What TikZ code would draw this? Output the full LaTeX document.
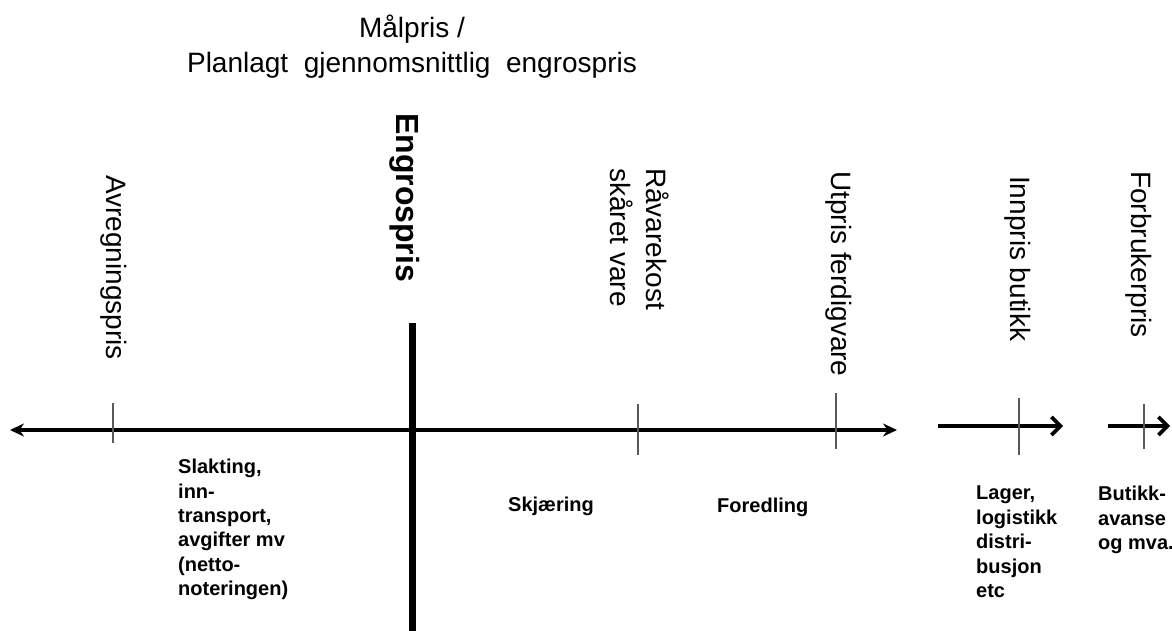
\documentclass[tikz,border=0pt]{standalone}
\usepackage{fontspec}
\setmainfont{Liberation Sans}
\usetikzlibrary{arrows.meta}
\begin{document}
\begin{tikzpicture}[x=1pt,y=-1pt,
  vlab/.style={rotate=-90,anchor=north west,inner sep=0pt,align=left,font=\fontsize{28}{36}\selectfont},
  blab/.style={anchor=north west,inner sep=0pt,align=left,font=\fontsize{20}{24.4}\selectfont\bfseries},
  axisline/.style={line width=3.2pt},
  tickline/.style={line width=1.8pt,draw=black!65},
  thickline/.style={line width=7pt},
  mainarrow/.style={axisline,{Stealth[length=14pt,width=13pt]}-{Stealth[length=14pt,width=13pt]}},
  barbarrow/.style={line width=3.6pt,-{Straight Barb[length=9pt,width=18pt,line width=3.6pt]}}
]
\useasboundingbox (0,0) rectangle (1172,631);

% title
\node[anchor=north,inner sep=0pt,align=center,font=\fontsize{28}{35}\selectfont] (title) at (412,15)
  {Målpris /\\Planlagt\ \ gjennomsnittlig\ \ engrospris};

% axis
\coordinate (axL) at (10,430);
\coordinate (axR) at (897,430);
\draw[mainarrow] (axL) -- (axR);
\coordinate (a2L) at (938,426);
\coordinate (a2R) at (1063,426);
\draw[barbarrow] (a2L) -- (a2R);
\coordinate (a3L) at (1108,426);
\coordinate (a3R) at (1170,426);
\draw[barbarrow] (a3L) -- (a3R);

% thick engrospris line
\coordinate (eT) at (412,323);
\coordinate (eB) at (412,631);
\draw[thickline] (eT) -- (eB);

% ticks
\coordinate (t1a) at (113,403); \coordinate (t1b) at (113,443);
\coordinate (t2a) at (638,404); \coordinate (t2b) at (638,455);
\coordinate (t3a) at (836,393); \coordinate (t3b) at (836,449);
\coordinate (t4a) at (1019,398); \coordinate (t4b) at (1019,455);
\coordinate (t5a) at (1144,404); \coordinate (t5b) at (1144,449);
\draw[tickline] (t1a) -- (t1b);
\draw[tickline] (t2a) -- (t2b);
\draw[tickline] (t3a) -- (t3b);
\draw[tickline] (t4a) -- (t4b);
\draw[tickline] (t5a) -- (t5b);

% vertical labels
\node[vlab] (avr) at (127,175) {Avregningspris};
\node[vlab,font=\fontsize{32}{38}\selectfont\bfseries] (eng) at (420,113) {Engrospris};
\node[vlab] (rav) at (669,168) {Råvarekost\\skåret vare};
\node[vlab] (utp) at (852,171) {Utpris ferdigvare};
\node[vlab] (inn) at (1031,176) {Innpris butikk};
\node[vlab] (forb) at (1152,171) {Forbrukerpris};

% bottom labels
\node[blab] (slak) at (178,459) {Slakting,\\inn-\\transport,\\avgifter mv\\(netto-\\noteringen)};
\node[blab] (skj) at (508,497) {Skjæring};
\node[blab] (fore) at (717,498) {Foredling};
\node[blab] (lag) at (976,486) {Lager,\\logistikk\\distri-\\busjon\\etc};
\node[blab] (but) at (1098,486) {Butikk-\\avanse\\og mva.};
\end{tikzpicture}
\end{document}
